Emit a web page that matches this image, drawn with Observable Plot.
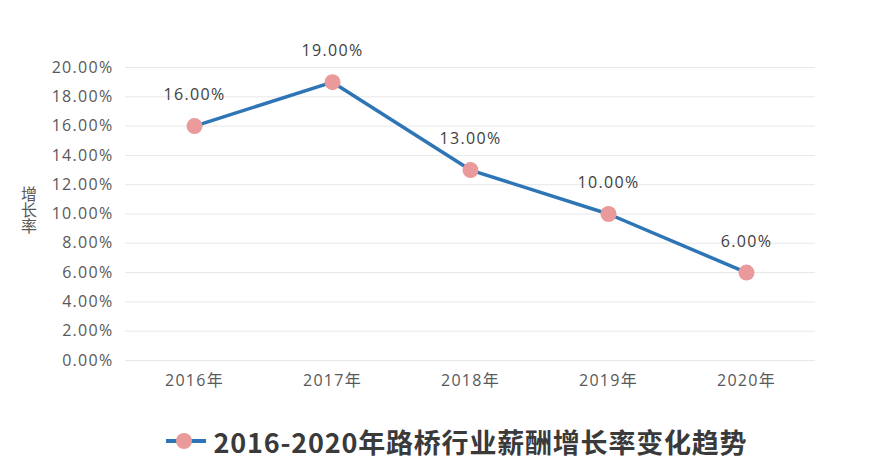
<!DOCTYPE html>
<html><head><meta charset="utf-8">
<script src="https://cdn.jsdelivr.net/npm/d3@7"></script>
<script src="https://cdn.jsdelivr.net/npm/@observablehq/plot@0.6"></script>
<style>
body{margin:0;background:#fff;font-family:"Open Sans","Noto Sans CJK SC",sans-serif;}
#wrap{position:relative;width:874px;height:474px;}
#ylab{position:absolute;left:17px;top:186px;writing-mode:vertical-rl;text-orientation:upright;font-size:16px;color:#595959;font-family:"Noto Sans CJK SC",sans-serif;letter-spacing:0px;}
#legend{position:absolute;left:38px;top:420px;width:836px;height:42px;display:flex;justify-content:center;align-items:center;}
#legend span{font-family:"Noto Sans CJK SC",serif;font-weight:bold;font-size:27px;color:#3a3a3a;margin-left:7px;letter-spacing:0.8px;}
</style></head><body>
<div id="wrap"><div id="chart"></div><div id="ylab">增长率</div>
<div id="legend"><svg width="42" height="20"><line x1="1" x2="41" y1="10" y2="10" stroke="#2e75b6" stroke-width="4"/><circle cx="19" cy="10" r="8" fill="#eb9a9c"/></svg><span>2016-2020年路桥行业薪酬增长率变化趋势</span></div>
</div>
<script>
const years = ["2016年","2017年","2018年","2019年","2020年"];
const rates = [16, 19, 13, 10, 6];
const yTicks = [0,2,4,6,8,10,12,14,16,18,20];
const data = years.map((y,i)=>({year:y, rate:rates[i]}));
const chart = Plot.plot({
  width: 874, height: 400,
  marginLeft: 125, marginRight: 59, marginTop: 67, marginBottom: 40,
  style:{fontFamily:'"Open Sans","Noto Sans CJK SC",sans-serif', fontSize:"16px", color:"#595959", background:"#fff", letterSpacing:"1.3px"},
  x:{type:"point", domain: years, padding:0.5, label:null, tickSize:0, tickPadding:14},
  y:{domain:[0,20], ticks: yTicks, tickFormat: d=>d.toFixed(2)+"%", label:null, tickSize:0, tickPadding:12},
  marks:[
    Plot.gridY(yTicks,{stroke:"#d9d9d9", strokeOpacity:0.6}),
    Plot.line(data,{x:"year", y:"rate", stroke:"#2e75b6", strokeWidth:3.5}),
    Plot.dot(data,{x:"year", y:"rate", r:8, fill:"#eb9a9c"}),
    Plot.text(data,{x:"year", y:"rate", text:d=>d.rate.toFixed(2)+"%", dy:-31, fill:"#404040", fontSize:16})
  ]
});
document.getElementById("chart").appendChild(chart);
</script>
</body></html>
